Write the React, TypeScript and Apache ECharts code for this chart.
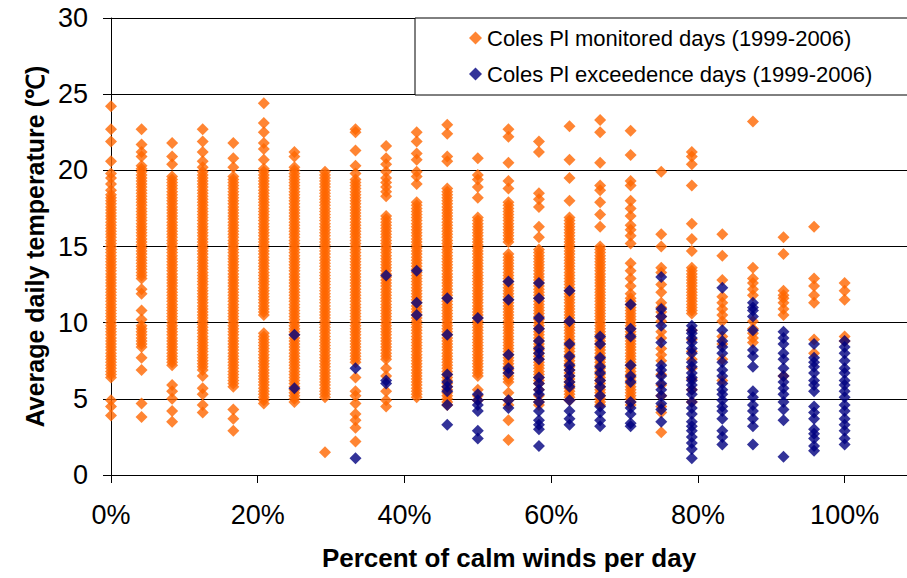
import React, { useEffect, useRef } from "react";
import * as echarts from "echarts";

// Share of the day's hours with calm winds (n/24), in percent
const calmPercent = [
  0, 4.17, 8.33, 12.5, 16.67, 20.83, 25, 29.17, 33.33, 37.5, 41.67, 45.83, 50,
  54.17, 58.33, 62.5, 66.67, 70.83, 75, 79.17, 83.33, 87.5, 91.67, 95.83, 100,
];

// Average daily temperature (°C) of every monitored day, grouped by calm share
const monitoredTemps: number[][] = [
  [24.2, 22.7, 21.9, 20.6, 19.8, 19.5, 19.1, 18.7, 18.4,
    18.2, 18.0, 17.8, 17.6, 17.4, 17.2, 17.0, 16.8, 16.6, 16.4, 16.2, 16.0, 15.8, 15.6, 15.4, 15.2, 15.0,
    14.8, 14.6, 14.4, 14.2, 14.0, 13.8, 13.6, 13.4, 13.2, 13.0, 12.8, 12.6, 12.4, 12.2, 12.0, 11.8, 11.6,
    11.4, 11.2, 11.0, 10.8, 10.6, 10.4, 10.2, 10.0, 9.8, 9.6, 9.4, 9.2, 9.0, 8.8, 8.6, 8.4, 8.2, 8.0, 7.8,
    7.6, 7.4, 7.2, 7.0, 6.8, 6.6, 6.4, 4.9, 4.5, 3.9],
  [22.7, 21.7, 21.2, 20.9, 20.3, 20.1, 19.9, 19.7, 19.5, 19.3, 19.1, 18.9, 18.7, 18.5, 18.3, 18.1, 17.9,
    17.7, 17.5, 17.3, 17.1, 16.9, 16.7, 16.5, 16.3, 16.1, 15.9, 15.7, 15.5, 15.3, 15.1, 14.9, 14.7, 14.5,
    14.3, 14.1, 13.9, 13.7, 13.5, 13.3, 13.1, 12.9, 12.2, 11.9, 10.8, 10.2, 9.8, 9.6, 9.4, 9.2, 9.0, 8.8,
    8.6, 8.4, 7.7, 6.9, 4.7, 3.8],
  [21.8, 20.9, 20.4, 19.6, 19.4, 19.2, 19.0, 18.8, 18.6, 18.4, 18.2, 18.0, 17.8, 17.6, 17.4, 17.2, 17.0,
    16.8, 16.6, 16.4, 16.2, 16.0, 15.8, 15.6, 15.4, 15.2, 15.0, 14.8, 14.6, 14.4, 14.2, 14.0, 13.8, 13.6,
    13.4, 13.2, 13.0, 12.8, 12.6, 12.4, 12.2, 12.0, 11.8, 11.6, 11.4, 11.2, 11.0, 10.8, 10.6, 10.4, 10.2,
    10.0, 9.8, 9.6, 9.4, 9.2, 9.0, 8.8, 8.6, 8.4, 8.2, 8.0, 7.8, 7.6, 7.4, 7.2, 5.9, 5.5, 5.0, 4.2, 3.5],
  [22.7, 21.9, 21.2, 20.6, 20.2, 19.9, 19.7, 19.5, 19.3, 19.1, 18.9, 18.7, 18.5, 18.3, 18.1, 17.9, 17.7,
    17.5, 17.3, 17.1, 16.9, 16.7, 16.5, 16.3, 16.1, 15.9, 15.7, 15.5, 15.3, 15.1, 14.9, 14.7, 14.5, 14.3,
    14.1, 13.9, 13.7, 13.5, 13.3, 13.1, 12.9, 12.7, 12.5, 12.3, 12.1, 11.9, 11.7, 11.5, 11.3, 11.1, 10.9,
    10.7, 10.5, 10.3, 10.1, 9.9, 9.7, 9.5, 9.3, 9.1, 8.9, 8.7, 8.5, 8.3, 8.1, 7.9, 7.7, 7.5, 7.3, 7.1, 6.9,
    6.5, 5.7, 5.3, 4.6, 4.1],
  [21.8, 20.8, 20.2, 19.6, 19.4, 19.2, 19.0, 18.8, 18.6, 18.4, 18.2, 18.0, 17.8, 17.6, 17.4, 17.2, 17.0,
    16.8, 16.6, 16.4, 16.2, 16.0, 15.8, 15.6, 15.4, 15.2, 15.0, 14.8, 14.6, 14.4, 14.2, 14.0, 13.8, 13.6,
    13.4, 13.2, 13.0, 12.8, 12.6, 12.4, 12.2, 12.0, 11.8, 11.6, 11.4, 11.2, 11.0, 10.8, 10.6, 10.4, 10.2,
    10.0, 9.8, 9.6, 9.4, 9.2, 9.0, 8.8, 8.6, 8.4, 8.2, 8.0, 7.8, 7.6, 7.4, 7.2, 7.0, 6.8, 6.6, 6.4, 6.2,
    6.0, 5.8, 4.3, 3.7, 2.9],
  [24.4, 23.1, 22.5, 21.8, 21.4, 20.7, 20.1, 19.9, 19.7, 19.5, 19.3, 19.1, 18.9, 18.7, 18.5, 18.3, 18.1,
    17.9, 17.7, 17.5, 17.3, 17.1, 16.9, 16.7, 16.5, 16.3, 16.1, 15.9, 15.7, 15.5, 15.3, 15.1, 14.9, 14.7,
    14.5, 14.3, 14.1, 13.9, 13.7, 13.5, 13.3, 13.1, 12.9, 12.7, 12.5, 12.3, 12.1, 11.9, 11.7, 11.5, 11.3,
    11.1, 10.9, 10.7, 10.5, 9.3, 9.1, 8.9, 8.7, 8.5, 8.3, 8.1, 7.9, 7.7, 7.5, 7.3, 7.1, 6.9, 6.7, 6.5, 6.3,
    6.1, 5.9, 5.7, 5.5, 5.3, 5.1, 4.9, 4.7],
  [21.2, 20.9, 20.2, 20.0, 19.8, 19.6, 19.4, 19.2, 19.0, 18.8, 18.6, 18.4, 18.2, 18.0, 17.8, 17.6, 17.4,
    17.2, 17.0, 16.8, 16.6, 16.4, 16.2, 16.0, 15.8, 15.6, 15.4, 15.2, 15.0, 14.8, 14.6, 14.4, 14.2, 14.0,
    13.8, 13.6, 13.4, 13.2, 13.0, 12.8, 12.6, 12.4, 12.2, 12.0, 11.8, 11.6, 11.4, 11.2, 11.0, 10.8, 10.6,
    10.4, 10.2, 10.0, 9.8, 9.6, 9.4, 9.2, 9.0, 8.8, 8.6, 8.4, 8.2, 8.0, 7.8, 7.6, 7.4, 7.2, 7.0, 6.8, 6.6,
    6.4, 6.2, 6.0, 5.8, 5.6, 5.4, 5.2, 5.0, 4.8],
  [19.9, 19.7, 19.5, 19.3, 19.1, 18.9, 18.7, 18.5, 18.3, 18.1, 17.9, 17.7, 17.5, 17.3, 17.1, 16.9, 16.7,
    16.5, 16.3, 16.1, 15.9, 15.7, 15.5, 15.3, 15.1, 14.9, 14.7, 14.5, 14.3, 14.1, 13.9, 13.7, 13.5, 13.3,
    13.1, 12.9, 12.7, 12.5, 12.3, 12.1, 11.9, 11.7, 11.5, 11.3, 11.1, 10.9, 10.7, 10.5, 10.3, 10.1, 9.9,
    9.7, 9.5, 9.3, 9.1, 8.9, 8.7, 8.5, 8.3, 8.1, 7.9, 7.7, 7.5, 7.3, 7.1, 6.9, 6.7, 6.5, 6.3, 6.1, 5.9,
    5.7, 5.5, 5.3, 5.1, 1.5],
  [22.7, 22.5, 21.3, 20.3, 19.8, 19.4, 19.2, 19.0, 18.8, 18.6, 18.4, 18.2, 18.0, 17.8, 17.6, 17.4, 17.2,
    17.0, 16.8, 16.6, 16.4, 16.2, 16.0, 15.8, 15.6, 15.4, 15.2, 15.0, 14.8, 14.6, 14.4, 14.2, 14.0, 13.8,
    13.6, 13.4, 13.2, 13.0, 12.8, 12.6, 12.4, 12.2, 12.0, 11.8, 11.6, 11.4, 11.2, 11.0, 10.8, 10.6, 10.4,
    10.2, 10.0, 9.8, 9.6, 9.4, 9.2, 9.0, 8.8, 8.6, 8.4, 8.2, 8.0, 7.8, 7.6, 7.4, 6.4, 5.5, 5.2, 4.7, 4.0,
    3.6, 3.1, 2.2],
  [21.6, 20.8, 20.4, 19.9, 19.5, 19.2, 18.9, 18.6, 18.3, 17.0, 16.8, 16.6, 16.4, 16.2, 16.0, 15.8, 15.6,
    15.4, 15.2, 15.0, 14.8, 14.6, 14.4, 14.2, 14.0, 13.8, 13.6, 13.4, 13.2, 13.0, 12.8, 12.6, 12.4, 12.2,
    12.0, 11.8, 11.6, 11.4, 11.2, 11.0, 10.8, 10.6, 10.4, 10.2, 10.0, 9.8, 9.6, 9.4, 9.2, 9.0, 8.8, 8.6,
    8.4, 8.2, 8.0, 7.8, 7.6, 7.0, 6.5, 5.5, 4.9, 4.5],
  [22.5, 21.9, 21.1, 20.7, 19.9, 19.6, 19.1, 17.9, 17.7, 17.5, 17.3, 17.1, 16.9, 16.7, 16.5, 16.3, 16.1,
    15.9, 15.7, 15.5, 15.3, 15.1, 14.9, 14.7, 14.5, 14.3, 14.1, 13.9, 13.7, 13.5, 13.3, 13.1, 12.9, 12.7,
    12.5, 12.3, 12.1, 11.9, 11.7, 11.5, 11.3, 11.1, 10.9, 10.7, 10.5, 10.3, 10.1, 9.9, 9.7, 9.5, 9.3, 9.1,
    8.9, 8.7, 8.5, 8.3, 8.1, 7.9, 7.7, 7.5, 7.3, 7.1, 6.9, 6.7, 6.5, 6.3, 6.1, 5.9, 5.7, 5.5, 5.3, 5.1],
  [23.0, 22.4, 20.9, 20.6, 18.8, 18.6, 18.4, 18.2, 18.0, 17.8, 17.6, 17.4, 17.2, 17.0, 16.8, 16.6, 16.4,
    16.2, 16.0, 15.8, 15.6, 15.4, 15.2, 15.0, 14.8, 14.6, 14.4, 14.2, 14.0, 13.8, 13.6, 13.4, 13.2, 13.0,
    12.8, 12.6, 12.4, 12.2, 12.0, 11.8, 11.6, 11.4, 11.2, 11.0, 10.8, 10.6, 10.4, 10.2, 10.0, 9.8, 9.6,
    9.4, 9.2, 9.0, 8.8, 8.6, 8.4, 8.2, 8.0, 7.8, 7.6, 7.4, 7.2, 7.0, 6.8, 6.6, 6.4, 6.2, 6.0, 5.8, 5.6,
    5.4, 5.2, 5.0, 4.8, 4.6],
  [20.8, 19.7, 19.4, 18.9, 18.2, 16.9, 16.7, 16.5, 16.3, 16.1, 15.9, 15.7, 15.5, 15.3, 15.1, 14.9, 14.7,
    14.5, 14.3, 14.1, 13.9, 13.7, 13.5, 13.3, 13.1, 12.9, 12.7, 12.5, 12.3, 12.1, 11.9, 11.7, 11.5, 11.3,
    11.1, 10.9, 10.7, 10.5, 10.3, 10.1, 9.9, 9.7, 9.5, 9.3, 9.1, 8.9, 8.7, 8.5, 8.3, 8.1, 7.9, 7.7, 7.5,
    7.3, 7.1, 6.9, 6.7, 6.5, 5.6, 5.2, 4.9],
  [22.7, 22.2, 20.5, 19.3, 18.8, 17.9, 17.7, 17.5, 17.3, 17.1, 16.9, 16.7, 16.5, 16.3, 16.1, 15.9, 15.7,
    15.5, 15.3, 14.5, 14.3, 14.1, 13.9, 13.7, 13.5, 13.3, 13.1, 12.9, 12.7, 12.5, 12.3, 12.1, 11.9, 11.7,
    11.5, 11.3, 11.1, 10.9, 10.7, 10.5, 10.3, 10.1, 9.9, 9.7, 9.5, 9.3, 9.1, 8.9, 8.7, 8.5, 8.3, 8.1, 7.9,
    7.7, 7.5, 7.3, 7.1, 6.9, 6.7, 6.5, 6.3, 6.1, 5.4, 4.9, 4.6, 3.6, 2.3],
  [21.9, 21.2, 18.5, 18.1, 17.6, 16.3, 15.6, 14.8, 14.6, 14.4, 14.2, 14.0, 13.8, 13.6, 13.4, 13.2, 13.0,
    12.8, 12.6, 12.4, 12.2, 12.0, 11.8, 11.6, 11.4, 11.2, 11.0, 10.8, 10.6, 10.4, 10.2, 10.0, 9.8, 9.6,
    9.4, 9.2, 9.0, 8.8, 8.6, 8.4, 8.2, 8.0, 7.8, 7.6, 7.4, 7.2, 7.0, 6.8, 6.6, 6.4, 6.2, 6.0, 5.6, 5.2,
    4.8, 4.6],
  [22.9, 20.7, 19.5, 18.0, 16.9, 16.7, 16.5, 16.3, 16.1, 15.9, 15.7, 15.5, 15.3, 15.1, 14.9, 14.7, 14.5,
    14.3, 14.1, 13.9, 13.7, 13.5, 13.3, 13.1, 12.9, 12.7, 12.5, 12.3, 12.1, 11.9, 11.7, 11.5, 11.3, 11.1,
    10.9, 10.7, 10.5, 10.3, 10.1, 9.9, 9.7, 9.5, 9.3, 9.1, 8.9, 8.7, 8.5, 8.3, 8.1, 7.9, 7.7, 7.5, 7.3,
    7.1, 6.9, 6.7, 6.5, 6.3, 6.1, 5.9, 5.7, 5.5, 5.3, 5.1, 4.9],
  [23.3, 22.5, 20.5, 19.0, 18.7, 17.9, 17.1, 16.3, 15.0, 14.8, 14.6, 14.4, 14.2, 14.0, 13.8, 13.6, 13.4,
    13.2, 13.0, 12.8, 12.6, 12.4, 12.2, 12.0, 11.8, 11.6, 11.4, 11.2, 11.0, 10.8, 10.6, 10.4, 10.2, 10.0,
    9.8, 9.6, 9.4, 9.2, 9.0, 8.8, 8.6, 8.4, 8.2, 8.0, 7.8, 7.6, 7.4, 7.2, 7.0, 6.8, 6.6, 6.4, 6.2, 6.0,
    5.8, 5.6, 5.4, 5.2, 5.0, 4.8, 4.6],
  [22.6, 21.0, 19.3, 19.0, 18.0, 17.5, 17.0, 16.4, 16.1, 15.7, 15.2, 13.9, 13.4, 12.9, 12.4, 11.9, 11.6,
    11.4, 11.2, 11.0, 10.8, 10.6, 10.4, 10.2, 10.0, 9.8, 9.6, 9.4, 9.2, 9.0, 8.8, 8.6, 8.4, 8.2, 8.0, 7.8,
    7.6, 7.4, 7.2, 7.0, 6.8, 6.6, 6.4, 6.2, 6.0, 5.8, 5.6, 5.4, 5.2, 5.0, 4.8, 4.6],
  [19.9, 15.8, 15.0, 13.6, 13.3, 12.5, 12.0, 11.3, 11.0, 10.7, 10.4, 10.1, 9.4, 9.0, 8.3, 7.9, 7.5, 6.6,
    5.9, 5.2, 4.5, 4.1, 2.8],
  [21.2, 20.9, 20.4, 19.0, 16.5, 15.5, 14.7, 13.6, 13.4, 13.2, 13.0, 12.8, 12.6, 12.4, 12.2, 12.0, 11.8,
    11.6, 11.4, 11.2, 11.0, 10.8, 10.6, 9.5, 8.9, 8.1, 7.6, 7.0, 6.3, 5.6, 4.8],
  [15.8, 14.4, 12.8, 11.7, 11.3, 10.9, 10.5, 10.1, 9.1, 8.6, 7.6, 6.2],
  [23.2, 13.6, 12.9, 12.6, 12.2, 11.8, 10.1, 9.6, 9.3, 9.0, 8.7],
  [15.6, 14.5, 12.1, 11.8, 11.6, 11.3, 10.9, 10.5, 6.5],
  [16.3, 12.9, 12.4, 11.8, 11.3, 8.9, 8.0],
  [12.6, 12.1, 11.5, 9.1, 8.8],
];

// Average daily temperature (°C) of the exceedence days, grouped by calm share
const exceedenceTemps: number[][] = [
  [], [], [], [], [], [],
  [9.2, 5.7],
  [],
  [7.0, 1.1],
  [13.1, 6.2, 6.0],
  [13.4, 11.3, 10.5],
  [11.6, 9.2, 6.6, 6.1, 5.8, 5.5, 4.6, 3.3],
  [10.3, 5.3, 4.9, 4.6, 4.2, 2.9, 2.4],
  [12.7, 11.5, 7.9, 7.0, 6.7, 4.9, 4.4],
  [12.6, 11.6, 10.3, 9.6, 8.8, 8.3, 8.0, 7.6, 6.4, 6.0, 5.6, 5.3, 4.8, 4.2, 3.6, 3.3, 3.0, 1.9],
  [12.1, 10.1, 8.6, 7.8, 7.2, 6.9, 6.5, 6.1, 5.8, 4.9, 4.2, 3.7, 3.3],
  [9.1, 8.6, 7.7, 7.1, 6.7, 6.2, 5.8, 5.2, 4.5, 4.1, 3.6, 3.2],
  [11.2, 9.6, 9.1, 7.2, 6.5, 6.1, 4.8, 4.4, 4.0, 3.4, 3.2],
  [13.0, 10.9, 10.4, 9.8, 8.7, 7.2, 6.9, 6.5, 6.0, 5.6, 5.2, 4.7, 4.3, 3.5],
  [9.8, 9.5, 9.3, 9.0, 8.7, 8.3, 8.0, 7.4, 7.1, 6.7, 6.4, 6.2, 5.9, 5.6, 5.3, 4.8, 4.4, 4.0, 3.5, 3.2,
    2.9, 2.5, 2.1, 1.7, 1.1],
  [12.3, 9.5, 8.8, 8.4, 8.0, 7.4, 6.9, 6.5, 6.0, 5.6, 5.3, 4.9, 4.5, 4.2, 3.7, 2.9, 2.5, 2.0],
  [11.3, 11.0, 10.8, 10.4, 9.5, 8.2, 7.8, 7.1, 5.5, 5.1, 4.6, 4.2, 3.7, 3.2, 2.0],
  [9.4, 9.0, 8.6, 8.0, 7.6, 7.0, 6.5, 6.1, 5.7, 5.3, 4.8, 4.3, 3.6, 1.2],
  [8.6, 7.7, 7.4, 7.1, 6.7, 6.2, 5.9, 5.5, 4.5, 4.1, 3.7, 3.0, 2.7, 2.4, 1.9, 1.6],
  [8.8, 8.4, 8.0, 7.5, 7.0, 6.7, 6.2, 5.9, 5.5, 5.1, 4.6, 4.2, 3.7, 3.3, 2.9, 2.4, 2.0],
];

const xTickValues = [0, 20, 40, 60, 80, 100];

const seriesNames = [
  "Coles Pl monitored days (1999-2006)",
  "Coles Pl exceedence days (1999-2006)",
];

const FONT = '"Liberation Sans", Arial, Helvetica, sans-serif';

const toPoints = (groups: number[][]) =>
  groups.flatMap((temps, i) => temps.map((t) => [calmPercent[i], t]));

export default function App() {
  const ref = useRef<HTMLDivElement>(null);

  useEffect(() => {
    if (!ref.current) return;
    const chart = echarts.init(ref.current, null, { renderer: "svg" });
    chart.setOption({
      animation: false,
      backgroundColor: "#ffffff",
      grid: { left: 111, top: 18, right: 0, bottom: 103, containLabel: false },
      xAxis: {
        type: "value",
        min: 0,
        max: 108.5,
        interval: 20,
        axisLine: { show: true, onZero: false, lineStyle: { color: "#000", width: 1 } },
        axisTick: {
          show: true,
          length: 8,
          customValues: xTickValues,
          lineStyle: { color: "#000" },
        },
        axisLabel: {
          customValues: xTickValues,
          formatter: (v: number) => `${v}%`,
          fontSize: 27,
          color: "#000",
          fontFamily: FONT,
          margin: 26,
        },
        splitLine: { show: false },
        name: "Percent of calm winds per day",
        nameLocation: "middle",
        nameGap: 70,
        nameTextStyle: { fontSize: 26, fontWeight: "bold", color: "#000", fontFamily: FONT },
      },
      yAxis: {
        type: "value",
        min: 0,
        max: 30,
        interval: 5,
        axisLine: { show: true, lineStyle: { color: "#000", width: 1 } },
        axisTick: { show: true, length: 8, lineStyle: { color: "#000" } },
        axisLabel: { fontSize: 27, color: "#000", fontFamily: FONT, margin: 23 },
        splitLine: { show: true, lineStyle: { color: "#000", width: 1 } },
        name: "Average daily temperature (℃)",
        nameLocation: "middle",
        nameRotate: 90,
        nameGap: 63,
        nameTextStyle: { fontSize: 25, fontWeight: "bold", color: "#000", fontFamily: FONT },
      },
      legend: {
        orient: "vertical",
        left: 415,
        top: 18,
        padding: [9, 80, 10, 54],
        itemGap: 14,
        itemWidth: 13,
        itemHeight: 13,
        borderColor: "#000",
        borderWidth: 1,
        backgroundColor: "#fff",
        textStyle: { fontSize: 22, lineHeight: 22, color: "#000", fontFamily: FONT },
        data: seriesNames,
      },
      series: [
        {
          type: "scatter",
          name: seriesNames[0],
          symbol: "diamond",
          symbolSize: 12,
          itemStyle: { color: "#FF6600" },
          data: toPoints(monitoredTemps),
          z: 2,
        },
        {
          type: "scatter",
          name: seriesNames[1],
          symbol: "diamond",
          symbolSize: 12,
          itemStyle: { color: "#000080" },
          data: toPoints(exceedenceTemps),
          z: 3,
        },
      ],
    });
    return () => chart.dispose();
  }, []);

  return <div ref={ref} style={{ width: 907, height: 578, position: "absolute", left: 0, top: 0 }} />;
}
